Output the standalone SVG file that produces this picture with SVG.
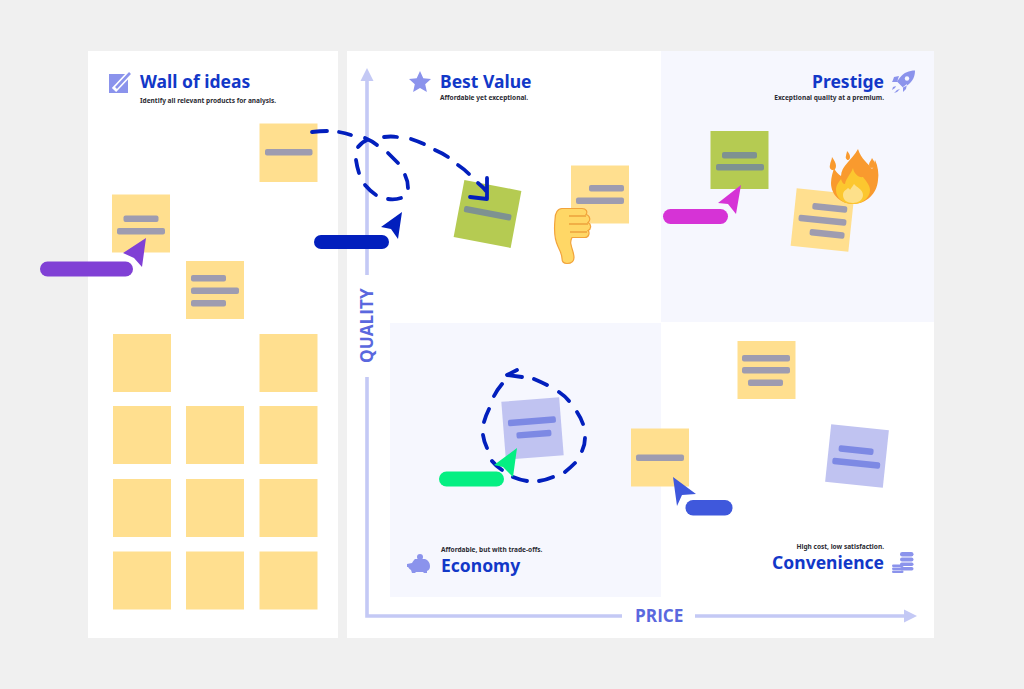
<svg xmlns="http://www.w3.org/2000/svg" width="1024" height="689" viewBox="0 0 1024 689">
<defs><style>
.title{font-family:"Noto Sans","Open Sans",sans-serif;font-weight:700;font-size:17.500px;fill:#1238c8}
.sub{font-family:"Noto Sans","Open Sans",sans-serif;font-weight:700;font-size:6.550px;fill:#2b2b33}
.axis{font-family:"Open Sans","Noto Sans",sans-serif;font-weight:700;font-size:17.200px;fill:#5a68de}
.y{fill:#ffdf8f}.g{fill:#b5cb52}.v{fill:#c0c3f1}
.by{fill:#9e9cb0}.bg{fill:#7e9291}.bv{fill:#7d89e4}
.ax{stroke:#c4c9f5;stroke-width:3.6;fill:none}
.dash{fill:none;stroke:#021fbd;stroke-width:3.800;stroke-linecap:round;stroke-linejoin:round}
.icon{fill:#8b93ec}
</style></defs>
<rect width="1024" height="689" fill="#f0f0f0"/>
<rect x="88" y="51" width="250" height="587" fill="#fff"/>
<rect x="347" y="51" width="587" height="587" fill="#fff"/>
<rect x="661" y="51" width="273" height="271" fill="#f6f7fe"/>
<rect x="390" y="323" width="271" height="274" fill="#f6f7fe"/>

<g id="axes">
<path class="ax" d="M367 275V78M367 377V616H622M695 616H906"/>
<path d="M367 68l6.500 13h-13z" fill="#c4c9f5"/>
<path d="M917 616l-13-6.500v13z" fill="#c4c9f5"/>
<text class="axis" transform="translate(373 363) rotate(-90)">QUALITY</text>
<text class="axis" x="635" y="622">PRICE</text>
</g>

<g id="wall-header">
<rect class="icon" x="109" y="74" width="19" height="19"/>
<path d="M114 90L131 72" stroke="#fff" stroke-width="6" fill="none"/>
<path d="M116 88L130 73" stroke="#8b93ec" stroke-width="2.600" fill="none"/>
<text class="title" x="140" y="88">Wall of ideas</text>
<text class="sub" x="140" y="103">Identify all relevant products for analysis.</text>
</g>
<g id="best-value-header">
<path class="icon" d="M420 71l3.300 7.300 7.700.8-5.800 5.200 1.700 7.700-6.900-4-6.900 4 1.700-7.700-5.800-5.200 7.700-.8z"/>
<text class="title" x="440" y="88">Best Value</text>
<text class="sub" x="440" y="100">Affordable yet exceptional.</text>
</g>
<g id="prestige-header">
<text class="title" x="884" y="88" text-anchor="end">Prestige</text>
<text class="sub" x="884" y="100" text-anchor="end">Exceptional quality at a premium.</text>
<path class="icon" d="M915 70.500c-6 0-11 2-15 7l-3 4 6 6 4-2c6-4 8-9 8-15zM899 76l-5 1-1 3-1 2 5 0zM907 84l-1 5-2 2-1 1 0-5zM893 87l3-1-1 2-3 2zM897 90l3-1-3 3-3 1z"/>
<circle cx="907" cy="78.500" r="2.200" fill="#f6f7fe"/>
</g>
<g id="economy-header">
<text class="sub" x="441" y="552">Affordable, but with trade-offs.</text>
<text class="title" x="441" y="572">Economy</text>
<circle class="icon" cx="420" cy="557" r="3"/>
<path class="icon" d="M407 564l5-1c1-2 2-3 3-4h10c3 1 5 4 5 7 0 3-1 4-3 5v2h-3l-1-1h-7l-1 1h-3l-1-3c-2-1-2-2-3-3h-1z"/>
</g>
<g id="convenience-header">
<text class="sub" x="884" y="549" text-anchor="end">High cost, low satisfaction.</text>
<text class="title" x="884" y="569" text-anchor="end">Convenience</text>
<g class="icon"><rect x="900" y="552" width="13.500" height="4.500" rx="2.200"/><rect x="900" y="557.500" width="13.500" height="4" rx="2"/><rect x="900" y="562.500" width="13.500" height="3.500" rx="1.700"/><rect x="900" y="567" width="13.500" height="3.500" rx="1.700"/><rect x="892" y="564.500" width="11.500" height="2.600" rx="1.300"/><rect x="892" y="567.500" width="11.500" height="2.600" rx="1.300"/><rect x="892" y="570.500" width="11.500" height="2.600" rx="1.300"/></g>
</g>

<g id="sticky-1"><rect class="y" x="259.500" y="123.500" width="58" height="58.500"/><rect class="by" x="265" y="149" width="47.500" height="6.500" rx="2"/></g>
<g id="sticky-2"><rect class="y" x="112" y="194.500" width="58" height="58"/><rect class="by" x="123.500" y="215.500" width="35" height="6.500" rx="2"/><rect class="by" x="117" y="228" width="48" height="6.500" rx="2"/></g>
<g id="sticky-3"><rect class="y" x="186" y="261" width="58" height="58"/><rect class="by" x="191" y="275" width="35" height="6.500" rx="2"/><rect class="by" x="191" y="287.500" width="48" height="6.500" rx="2"/><rect class="by" x="191" y="300" width="35" height="6.500" rx="2"/></g>
<g id="wall-empty">
<rect class="y" x="113" y="334" width="58" height="58"/><rect class="y" x="259.500" y="334" width="58" height="58"/>
<rect class="y" x="113" y="406" width="58" height="58"/><rect class="y" x="186" y="406" width="58" height="58"/><rect class="y" x="259.500" y="406" width="58" height="58"/>
<rect class="y" x="113" y="479" width="58" height="58"/><rect class="y" x="186" y="479" width="58" height="58"/><rect class="y" x="259.500" y="479" width="58" height="58"/>
<rect class="y" x="113" y="551.500" width="58" height="58"/><rect class="y" x="186" y="551.500" width="58" height="58"/><rect class="y" x="259.500" y="551.500" width="58" height="58"/>
</g>

<g id="sticky-best-green" transform="rotate(10.700 487.500 214)"><rect class="g" x="458.500" y="185" width="58" height="58"/><rect class="bg" x="463.500" y="210" width="48" height="6.500" rx="2"/></g>
<g id="sticky-best-yellow"><rect class="y" x="571" y="165.500" width="58" height="58"/><rect class="by" x="589" y="185" width="35" height="6.500" rx="2"/><rect class="by" x="576" y="197.500" width="48" height="6.500" rx="2"/></g>
<g id="sticky-prestige-green"><rect class="g" x="710.500" y="131" width="58" height="58"/><rect class="bg" x="722" y="152" width="35" height="6.500" rx="2"/><rect class="bg" x="716" y="164" width="48" height="6.500" rx="2"/></g>
<g id="sticky-prestige-yellow" transform="rotate(6 822.500 220)"><rect class="y" x="793.500" y="191" width="58" height="58"/><rect class="by" x="811" y="204" width="35" height="6.500" rx="2"/><rect class="by" x="798.500" y="217" width="48" height="6.500" rx="2"/><rect class="by" x="811" y="230" width="35" height="6.500" rx="2"/></g>
<g id="sticky-economy" transform="rotate(-4.500 532.500 428.500)"><rect class="v" x="503.500" y="399.500" width="58" height="58"/><rect class="bv" x="508.500" y="418" width="48" height="6.500" rx="2"/><rect class="bv" x="516" y="431" width="35" height="6.500" rx="2"/></g>
<g id="sticky-mid"><rect class="y" x="631" y="428.500" width="58" height="58"/><rect class="by" x="636" y="454.500" width="48" height="6.500" rx="2"/></g>
<g id="sticky-conv-yellow"><rect class="y" x="737.500" y="341" width="58" height="58"/><rect class="by" x="742" y="355" width="48" height="6.500" rx="2"/><rect class="by" x="742" y="367" width="48" height="6.500" rx="2"/><rect class="by" x="748" y="379.500" width="35" height="6.500" rx="2"/></g>
<g id="sticky-conv-violet" transform="rotate(6 857 456)"><rect class="v" x="828" y="427" width="58" height="58"/><rect class="bv" x="838" y="447" width="35" height="6.500" rx="2"/><rect class="bv" x="833" y="460" width="48" height="6.500" rx="2"/></g>

<g id="connectors">
<path class="dash" d="M312 132Q320 131 327 131M339 132Q345 133 351 135M365 138Q372 141 377 145M358 147Q362 142 367 140M384 137Q391 136 397 137M411 139Q417 141 424 144M435 150Q442 153 448 157M458 165Q464 169 469 174"/>
<path class="dash" d="M478 183Q483 187 487 192M487 178V199L470 197"/>
<path class="dash" d="M388 153Q393 158 398 163M405 175Q408 181 408 188M388 199Q395 200 401 198M365 185Q370 191 376 195M356 160Q357 167 359 173"/>
<path class="dash" d="M517 370L507 375L522 377M494 396Q497 390 502 384M534 379Q541 382 547 385M559 392Q565 396 569 401M577 412Q581 418 583 424M585 438Q585 445 582 451M575 463Q570 468 565 472M553 477Q546 480 539 481M527 481Q520 480 513 477M502 470Q496 466 492 461M487 448Q484 442 483 435M484 422Q486 415 489 409"/>
</g>

<g id="cursor-purple"><rect x="40" y="261.500" width="93" height="15" rx="7.500" fill="#8040d5"/><path d="M146 238L123 253L134 258L142 267z" fill="#8040d5"/></g>
<g id="cursor-navy"><rect x="314" y="235" width="75" height="14" rx="7" fill="#021fbd"/><path d="M402 212L381 227L391 229L398 239z" fill="#021fbd"/></g>
<g id="cursor-magenta"><rect x="663" y="209" width="65" height="15" rx="7.500" fill="#d633d6"/><path d="M741 185L718 203L728 204L736 214z" fill="#d633d6"/></g>
<g id="cursor-green"><rect x="439" y="471.500" width="65" height="15" rx="7.500" fill="#05ef82"/><path d="M517 448L494 465L503 467L513 477z" fill="#05ef82"/></g>
<g id="cursor-blue"><rect x="685.500" y="500" width="47" height="15.500" rx="7.500" fill="#3f58dc"/><path d="M673 477L696 494L682 495L677 506z" fill="#3f58dc"/></g>

<g id="emoji-thumb">
<path d="M562 208.500h20c4 0 6 3 4 6 4 1 5 6 2 8 4 2 3 7 0 8 2 2 1 7-3 7h-13c-1 2-2 4-1 7 1 5 3 9 3 13 0 4-3 6-7 6-3 0-5-2-5-5 0-4-2-8-4-12-3-6-4-17-3-27 0-7 3-11 7-11z" fill="#ffd766" stroke="#f2a33a" stroke-width="1.200"/>
<path d="M569 216h17M569 224h19M570 232h17" stroke="#eda23c" stroke-width="1.300" fill="none"/>
</g>
<g id="emoji-fire">
<path d="M858 149c3 10 10 14 14 20 2-2 2-6 3-9 3 6 4 14 3 20-1 14-12 24-25 24-12 0-22-9-22-21 0-6 2-11 3-15 2 4 4 6 7 8 0-10 11-16 17-27z" fill="#f99a2e"/>
<path d="M853 168c1 6 6 10 10 9 2 3 7 8 7 13 0 8-8 14-17 14-10 0-17-6-17-14 0-5 3-8 5-11 1 3 2 5 4 5 1-6 6-10 8-16z" fill="#fcc72f"/>
<path d="M854 184c2 3 9 5 9 11 0 5-5 8-10 8-6 0-10-3-10-8 0-4 3-5 5-7 1 1 2 1 2 2 1-2 3-4 4-6z" fill="#fde08a"/>
<path d="M832 157c2 3 4 6 4 9 0 3-2 4-3 4-2 0-4-2-3-5 0-3 2-5 2-8zM847 151c2 2 3 4 3 6s-1 3-2 3-3-2-2-4c0-2 1-3 1-5zM872 158c1 2 3 4 3 6 0 3-2 4-3 4s-3-1-3-3c0-3 2-4 3-7z" fill="#f99a2e"/>
</g>
</svg>
